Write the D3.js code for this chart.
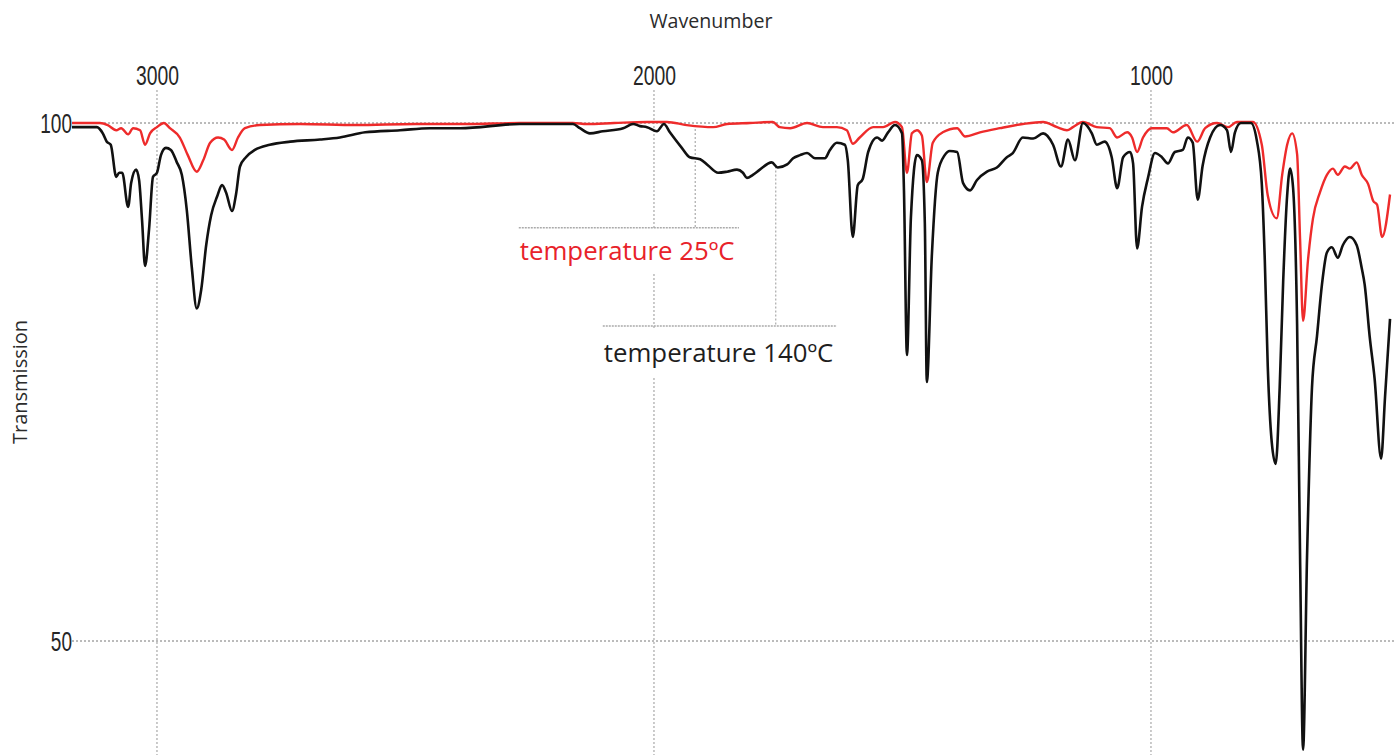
<!DOCTYPE html>
<html>
<head>
<meta charset="utf-8">
<script src="https://cdn.jsdelivr.net/npm/d3@7"></script>
<style>
  html, body { margin: 0; padding: 0; background: #fff; }
  svg { display: block; }
</style>
</head>
<body>
<svg id="chart" width="1395" height="755"></svg>
<script>
// ---------------- DATA ----------------
const xTicks = [3000, 2000, 1000];
const yTicks = [100, 50];
const xTitle = "Wavenumber";
const yTitle = "Transmission";

// Spectrum at 25 ºC (red)
const wn25 = [3171,3115,3099,3082,3072,3058,3048,3034,3024,3014,3000,2986,2974,2954,2938,2920,2907,2893,2877,2865,2849,2837,2823,2793,2712,2600,2480,2380,2270,2163,2135,2080,2014,1974,1934,1881,1853,1807,1761,1747,1726,1692,1660,1632,1612,1600,1586,1559,1539,1515,1501,1491,1481,1471,1461,1451,1439,1419,1390,1374,1344,1304,1258,1217,1189,1169,1157,1137,1109,1083,1068,1048,1038,1028,1016,998,968,956,928,907,891,867,845,827,795,777,765,747,736,726,716,706,700,694,684,674,660,646,634,624,610,600,586,576,563,553,545,535,519];
const tr25 = [100.0,100.0,99.8,99.3,99.5,98.9,99.5,99.3,97.9,99.0,99.6,100.0,99.5,98.6,96.9,95.3,96.4,98.1,98.6,98.4,97.4,98.6,99.5,99.8,99.9,99.8,99.9,99.9,100.0,100.0,99.9,100.0,100.1,100.1,99.8,99.6,99.9,100.0,100.1,99.6,99.5,100.0,99.6,99.6,99.3,98.0,98.6,99.6,99.6,100.1,99.6,95.2,99.0,99.3,98.8,94.3,98.1,99.1,99.5,98.7,99.1,99.5,99.9,100.1,99.6,99.3,99.6,100.1,99.6,99.5,98.6,99.1,98.6,97.2,98.6,99.5,99.5,99.1,99.8,98.2,99.5,100.0,99.6,100.1,100.1,97.9,93.0,90.8,95.0,97.9,99.0,97.0,88.8,80.9,86.8,90.8,93.3,95.0,95.6,95.0,95.8,95.6,96.2,95.0,94.1,92.5,92.1,89.0,93.1];

// Spectrum at 140 ºC (black)
const wn140 = [3171,3121,3109,3101,3093,3082,3076,3070,3058,3052,3042,3036,3030,3024,3016,3008,3000,2992,2982,2972,2960,2950,2940,2930,2920,2911,2901,2891,2879,2869,2861,2849,2841,2833,2821,2803,2773,2732,2672,2632,2581,2511,2451,2390,2270,2163,2149,2129,2103,2062,2042,2028,2014,1994,1980,1968,1944,1928,1907,1891,1871,1853,1833,1821,1813,1801,1787,1763,1751,1732,1720,1706,1692,1676,1656,1646,1632,1616,1610,1600,1590,1580,1569,1551,1541,1529,1515,1501,1497,1491,1483,1471,1461,1455,1451,1441,1429,1415,1405,1390,1378,1364,1350,1330,1310,1290,1278,1258,1237,1217,1197,1181,1167,1153,1137,1119,1109,1093,1079,1068,1056,1042,1036,1028,1018,1006,992,978,966,952,936,926,916,906,896,881,861,847,839,831,819,799,787,777,771,765,757,749,741,734,726,720,714,706,700,694,686,676,666,656,646,636,624,614,600,586,576,570,560,550,537,529,519];
const tr140 = [99.6,99.6,99.0,98.2,97.9,94.8,95.2,95.2,91.9,94.2,95.5,94.5,90.6,86.2,89.7,94.8,95.2,96.9,97.6,97.4,96.2,95.0,91.6,86.1,82.1,83.9,88.2,91.1,92.9,94.0,93.3,91.5,93.1,95.8,96.7,97.4,97.9,98.2,98.4,98.6,99.1,99.3,99.5,99.5,99.9,99.9,99.5,99.0,99.2,99.5,99.9,99.7,99.6,99.2,99.9,99.1,97.6,96.7,96.5,95.9,95.2,95.3,95.5,95.2,94.7,95.0,95.5,96.2,95.7,96.0,96.6,96.9,97.1,96.6,96.6,97.4,98.1,97.9,96.4,89.0,94.0,94.6,97.2,98.6,98.3,99.1,99.8,99.0,93.5,77.6,90.9,96.9,96.4,90.3,75.0,87.1,95.2,96.9,97.3,97.2,94.2,93.5,94.5,95.3,95.7,96.7,97.1,98.6,98.5,99.0,97.9,95.8,98.4,96.4,100.0,99.0,97.9,98.2,96.7,93.7,96.7,97.2,96.1,87.9,91.9,94.7,97.1,96.7,96.1,97.2,97.4,98.6,98.1,92.6,95.9,98.6,99.8,99.3,97.2,99.1,100.0,100.0,98.3,94.1,86.8,76.5,69.2,67.1,74.5,84.7,93.0,95.6,93.7,80.6,58.1,39.5,58.1,74.5,79.4,84.4,87.5,88.0,87.0,88.2,89.0,88.2,86.0,84.4,79.4,75.3,67.6,73.6,81.1];

// Callout annotations (in data units)
const callouts = [
  { label: "temperature 25ºC",  color: "#e8222a", pointWn: 1917, pointTop: 99.8, lineT: 89.9, fromWn: 2272, toWn: 1829, textT: 86.8 },
  { label: "temperature 140ºC", color: "#1e1e1e", pointWn: 1755, pointTop: 95.8, lineT: 80.4, fromWn: 2103, toWn: 1632, textT: 76.9 }
];

// ---------------- CHART ----------------
const W = 1395, H = 755;
const svg = d3.select("#chart");
const x = d3.scaleLinear().domain([3175, 509]).range([70, 1395]);
const y = d3.scaleLinear().domain([50, 100]).range([641, 123]);

// vertical grid lines
svg.append("g").selectAll("line").data(xTicks).join("line")
  .attr("x1", d => x(d)).attr("x2", d => x(d))
  .attr("y1", 90).attr("y2", H)
  .attr("stroke", "#a8a8a8").attr("stroke-width", 1.2)
  .attr("stroke-dasharray", "2,2");

// horizontal grid lines
svg.append("g").selectAll("line").data(yTicks).join("line")
  .attr("x1", 72).attr("x2", W)
  .attr("y1", d => y(d)).attr("y2", d => y(d))
  .attr("stroke", "#777").attr("stroke-width", 1)
  .attr("stroke-dasharray", "2,2");

// x axis (top)
const xAxis = svg.append("g").attr("transform", "translate(0,90)")
  .call(d3.axisTop(x).tickValues(xTicks).tickSize(0).tickPadding(5).tickFormat(d3.format("d")));
xAxis.select(".domain").remove();
xAxis.selectAll("text")
  .attr("font-family", "'Liberation Sans', Arial, sans-serif")
  .attr("font-size", 27).attr("fill", "#262626")
  .attr("textLength", 43).attr("lengthAdjust", "spacingAndGlyphs");

// y axis (left)
const yAxis = svg.append("g").attr("transform", "translate(72,0)")
  .call(d3.axisLeft(y).tickValues(yTicks).tickSize(0).tickPadding(0));
yAxis.select(".domain").remove();
yAxis.selectAll("text")
  .attr("font-family", "'Liberation Sans', Arial, sans-serif")
  .attr("font-size", 27).attr("fill", "#262626")
  .attr("dy", "0.36em")
  .attr("textLength", d => String(d).length * 10.6).attr("lengthAdjust", "spacingAndGlyphs");

// axis titles
svg.append("text").attr("x", 711).attr("y", 28)
  .attr("text-anchor", "middle")
  .attr("font-family", "'Open Sans', sans-serif").attr("font-size", 19.6)
  .attr("fill", "#2b2b2b").text(xTitle);
svg.append("text")
  .attr("transform", "translate(27,382) rotate(-90)")
  .attr("text-anchor", "middle")
  .attr("font-family", "'Open Sans', sans-serif").attr("font-size", 20)
  .attr("fill", "#2b2b2b").text(yTitle);

// callouts
callouts.forEach(c => {
  const g = svg.append("g");
  const bg = g.append("rect").attr("fill", "#fff");
  g.append("line")
    .attr("x1", x(c.pointWn)).attr("x2", x(c.pointWn))
    .attr("y1", y(c.pointTop)).attr("y2", y(c.lineT))
    .attr("stroke", "#aaa").attr("stroke-width", 1.2).attr("stroke-dasharray", "2,2");
  g.append("line")
    .attr("x1", x(c.fromWn)).attr("x2", x(c.toWn))
    .attr("y1", y(c.lineT)).attr("y2", y(c.lineT))
    .attr("stroke", "#aaa").attr("stroke-width", 1.5).attr("stroke-dasharray", "2,1");
  const t = g.append("text")
    .attr("x", x(c.fromWn) + 1).attr("y", y(c.textT))
    .attr("font-family", "'Open Sans', sans-serif").attr("font-size", 25.8)
    .attr("fill", c.color).text(c.label);
  const bb = t.node().getBBox();
  const top = y(c.lineT) + 2;
  const bottom = bb.y + bb.height + 6;
  bg.attr("x", bb.x - 2).attr("y", top).attr("width", bb.width + 4).attr("height", bottom - top);
});

// spectra
const line = d3.line().x(d => x(d[0])).y(d => y(d[1])).curve(d3.curveMonotoneX);
const s25 = wn25.map((w, i) => [w, tr25[i]]);
const s140 = wn140.map((w, i) => [w, tr140[i]]);

svg.append("path").datum(s25).attr("d", line)
  .attr("fill", "none").attr("stroke", "#ee2b2b").attr("stroke-width", 2.4)
  .attr("stroke-linejoin", "round");
svg.append("path").datum(s140).attr("d", line)
  .attr("fill", "none").attr("stroke", "#111").attr("stroke-width", 2.6)
  .attr("stroke-linejoin", "round");
</script>
</body>
</html>
